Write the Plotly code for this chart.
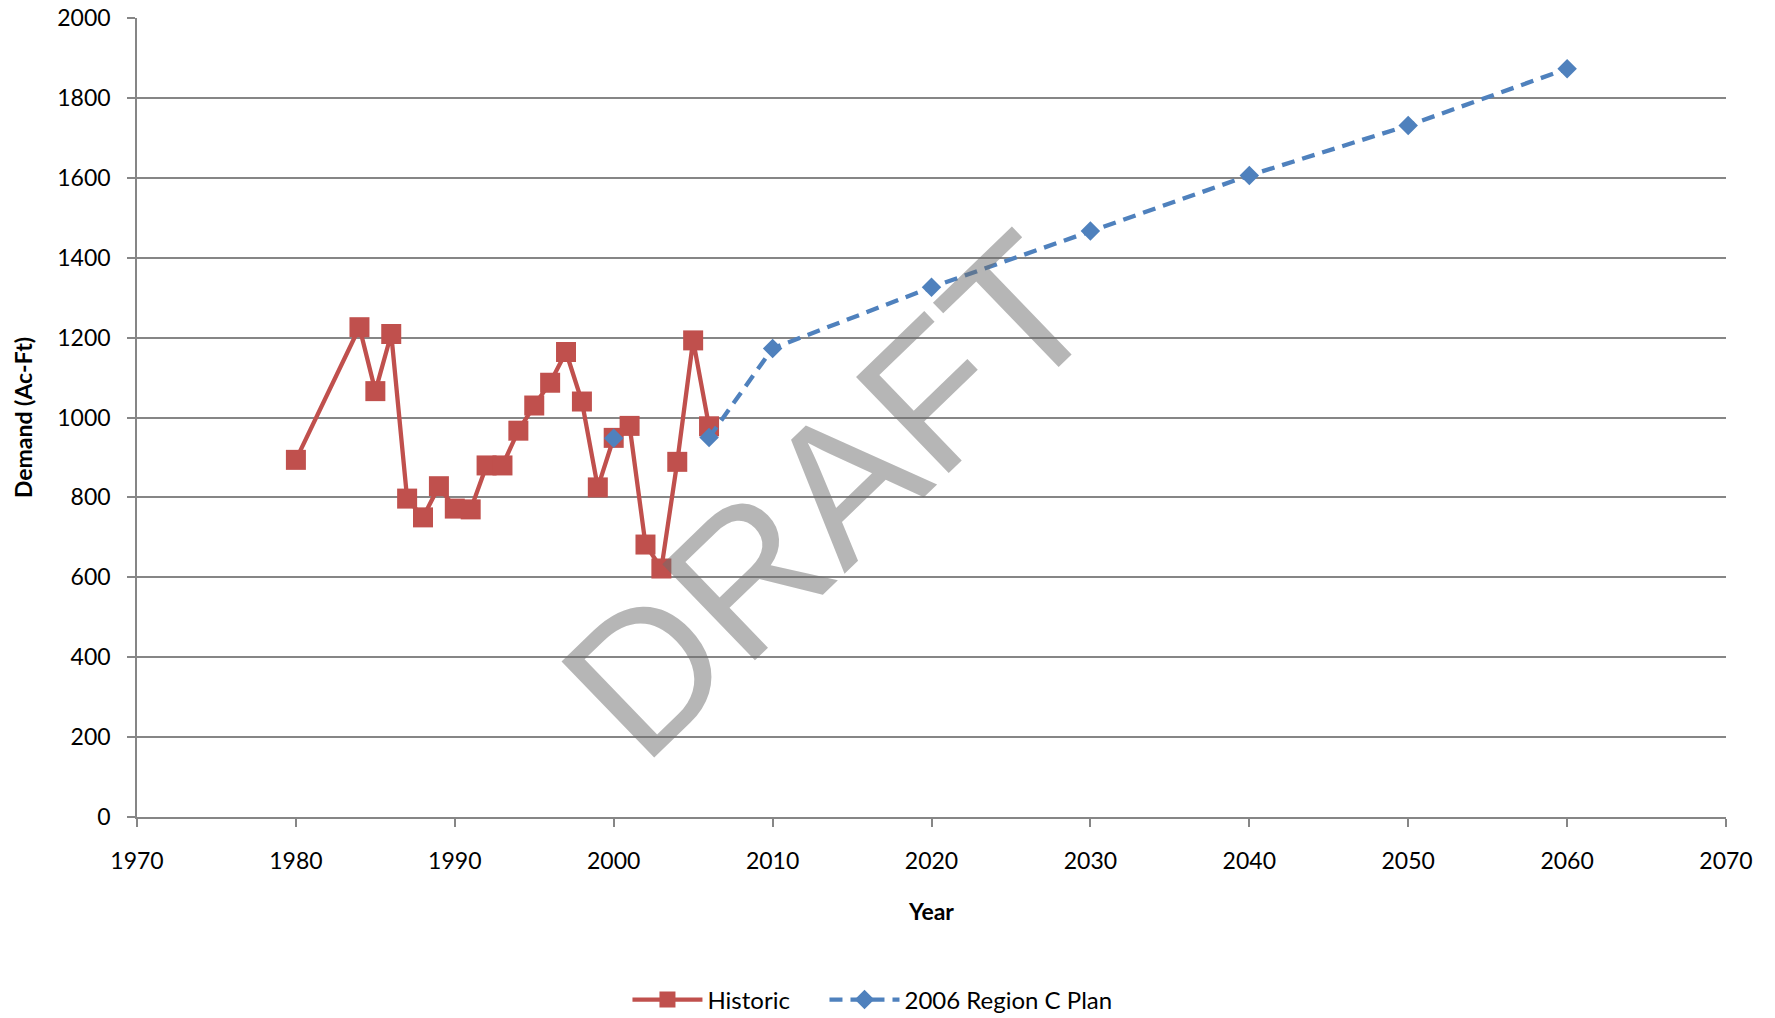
import plotly.graph_objects as go

hist_years = [1980, 1984, 1985, 1986, 1987, 1988, 1989, 1990, 1991, 1992, 1993,
              1994, 1995, 1996, 1997, 1998, 1999, 2000, 2001, 2002, 2003, 2004,
              2005, 2006]
hist_vals = [894, 1226, 1066, 1209, 797, 750, 828, 772, 770, 880, 880,
             967, 1030, 1087, 1164, 1040, 825, 949, 979, 682, 622, 889,
             1193, 978]

plan_years = [2000, 2003, 2006, 2010, 2020, 2030, 2040, 2050, 2060]
plan_vals = [948, None, 950, 1173, 1326, 1467, 1606, 1731, 1873]

x_ticks = list(range(1970, 2071, 10))
y_ticks = list(range(0, 2001, 200))

RED = "#C0504D"
BLUE = "#4F81BD"
GRID = "#868686"
FONT = "Lato"

fig = go.Figure()
fig.add_trace(go.Scatter(
    x=hist_years, y=hist_vals, name="Historic", mode="lines+markers",
    line=dict(color=RED, width=4.3),
    marker=dict(symbol="square", size=20, color=RED),
    legend="legend",
))
fig.add_trace(go.Scatter(
    x=plan_years, y=plan_vals, name="2006 Region C Plan", mode="lines+markers",
    connectgaps=False,
    line=dict(color=BLUE, width=4.3, dash="13px,8px"),
    marker=dict(symbol="diamond", size=15, color=BLUE),
    legend="legend2",
))

fig.add_annotation(
    x=2013.5, y=805, xref="x", yref="y", text="DRAFT", showarrow=False,
    textangle=-44, xanchor="center", yanchor="middle",
    font=dict(family="Liberation Sans", size=194, color="rgba(110,110,110,0.5)"),
)

legend_common = dict(orientation="h", xref="container", yref="container",
                     y=0.0177, xanchor="left", yanchor="middle",
                     font=dict(size=24, family=FONT), itemwidth=70,
                     itemsizing="trace", bgcolor="rgba(0,0,0,0)")

fig.update_layout(
    width=1775, height=1018,
    margin=dict(l=137, r=49, t=18, b=201),
    paper_bgcolor="white", plot_bgcolor="white",
    font=dict(family=FONT, size=23, color="black"),
    showlegend=True,
    legend=dict(x=0.3535, **legend_common),
    legend2=dict(x=0.4645, **legend_common),
    xaxis=dict(
        range=[1970, 2070], tickvals=x_ticks, ticktext=[str(v) for v in x_ticks],
        showgrid=False, zeroline=False, showline=True, linecolor=GRID, linewidth=1.5,
        ticks="outside", ticklen=8, tickcolor=GRID, tickwidth=1.5, automargin=False,
        tickfont=dict(size=23, family=FONT), ticklabelstandoff=15,
        ticklabeloverflow="allow",
        title=dict(text="<b>Year</b>", font=dict(size=23, family=FONT), standoff=31),
    ),
    yaxis=dict(
        range=[0, 2000], tickvals=y_ticks, ticktext=[str(v) for v in y_ticks],
        showgrid=True, gridcolor=GRID, gridwidth=1.5, zeroline=False,
        showline=True, linecolor=GRID, linewidth=1.5, automargin=False,
        ticks="outside", ticklen=8, tickcolor=GRID, tickwidth=1.5,
        tickfont=dict(size=23, family=FONT), ticklabelstandoff=12,
        ticklabeloverflow="allow",
        title=dict(text="<b>Demand (Ac-Ft)</b>", font=dict(size=23, family=FONT), standoff=18),
    ),
)

fig.write_html("out.html", config={"displayModeBar": False},
               post_script="document.body.style.margin='0px';")
